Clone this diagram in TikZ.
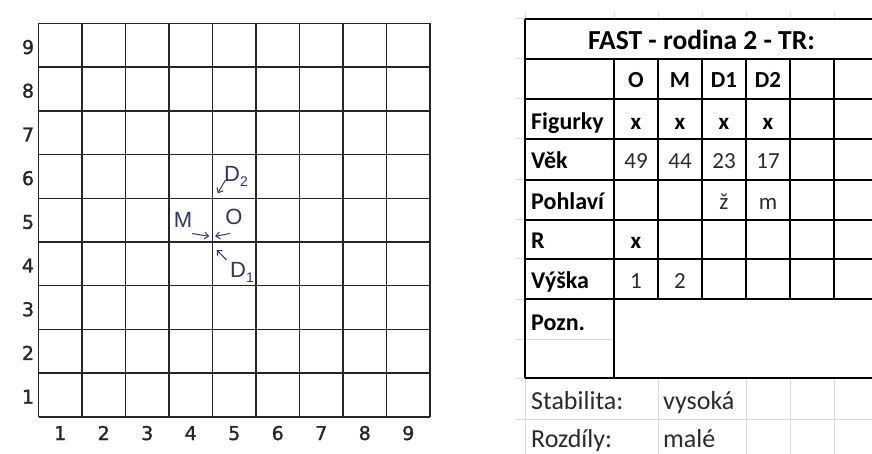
\documentclass[tikz,border=0pt]{standalone}
\usepackage{fontspec}
\setmainfont{Carlito}
\newfontfamily\gridfont[FakeBold=1.4]{DejaVu Sans}
\newfontfamily\handfont{Liberation Sans}
\usetikzlibrary{arrows.meta}

\definecolor{boardgray}{HTML}{262626}
\definecolor{ink}{HTML}{2E3470}
\definecolor{xlgrid}{HTML}{D5DCE6}
\definecolor{celltext}{HTML}{2A2A2A}

\begin{document}
\begin{tikzpicture}[
    x=1pt, y=-1pt,          % pixel coordinates, y down
    >=Stealth,
    board/.style={draw=boardgray, line width=1.5pt},
    axislabel/.style={font=\gridfont\fontsize{19}{19}\selectfont, text=boardgray, inner sep=0pt, anchor=base},
    hand/.style={font=\handfont\fontsize{22}{22}\selectfont, text=ink, inner sep=0pt},
    handarrow/.style={draw=ink, line width=1pt, -{Straight Barb[length=4pt,width=7pt]}},
    thickrule/.style={draw=black, line width=1.7pt},
    xlline/.style={draw=xlgrid, line width=1pt},
    title/.style={font=\bfseries\fontsize{27.5}{27.5}\selectfont, anchor=base},
    rowhead/.style={font=\bfseries\fontsize{24}{24}\selectfont, anchor=base west, inner sep=0pt},
    cellb/.style={font=\bfseries\fontsize{23}{23}\selectfont, inner sep=0pt, anchor=base},
    cellr/.style={font=\fontsize{23}{23}\selectfont, text=celltext, inner sep=0pt, anchor=base},
    plain/.style={font=\fontsize{26}{26}\selectfont, text=celltext, anchor=base west, inner sep=0pt}
]
    \useasboundingbox (0,0) rectangle (872,454);
    \clip (0,0) rectangle (872,454);

    % --- game board 9x9 ---
    \foreach \i in {0,...,9} {
        \draw [board] ({38.5+43.5*\i},23.5) -- ({38.5+43.5*\i},416.8);
        \draw [board] (38.5,{23.5+43.7*\i}) -- (430,{23.5+43.7*\i});
    }
    \foreach \i in {1,...,9} {
        \node [axislabel] (col\i) at ({38.5+43.5*(\i-0.5)},440) {\i};
        \node [axislabel] (row\i) at (28,{54+43.7*(9-\i)}) {\i};
    }

    % --- figures (hand written) ---
    \coordinate (hub) at (211.7,242.3);
    \node [hand] (mlab) at (183,220) {M};
    \node [hand] (olab) at (234,217) {O};
    \node [hand] (d2lab) at (236,176) {D\raisebox{-5pt}{\fontsize{14}{14}\selectfont 2}};
    \node [hand] (d1lab) at (242,272) {D\raisebox{-5pt}{\fontsize{14}{14}\selectfont 1}};
    \coordinate (mtail) at (192,233.5);
    \coordinate (otail) at (230,233.5);
    \coordinate (d2tail) at (225.5,180);
    \coordinate (d1tail) at (226.5,260);
    \draw [handarrow] (mtail) -- ([shift={(-2.5,-6)}]hub);
    \draw [handarrow] (otail) -- ([shift={(3.5,-6)}]hub);
    \draw [handarrow] (d2tail) -- ([shift={(6,-49)}]hub);
    \draw [handarrow] (d1tail) -- ([shift={(5,7.5)}]hub);

    % --- sheet grid round the table ---
    \foreach \y in {19,59,99,139,180,220,259,299,339,378,419}
        \draw [xlline] (515,\y) -- (525,\y);
    \foreach \x in {525,614,658,702,746,790,834}
        \draw [xlline] (\x,12) -- (\x,19);
    \draw [xlline] (525,339) -- (614,339);
    \draw [xlline] (515,419) -- (872,419);
    \foreach \x in {525,658,746,790,834}
        \draw [xlline] (\x,378) -- (\x,454);

    % --- table ---
    \foreach \y in {19,59,99,139,180,220,259,299,378}
        \draw [thickrule] (525,\y) -- (880,\y);
    \draw [thickrule] (525,19) -- (525,378);
    \draw [thickrule] (614,59) -- (614,378);
    \foreach \x in {658,702,746,790,834,878}
        \draw [thickrule] (\x,59) -- (\x,299);

    \node [title] (ttl) at (701.5,49.5) {FAST - rodina 2 - TR:};

    \node [cellb] (hO) at (636,87.5) {O};
    \node [cellb] (hM) at (680,87.5) {M};
    \node [cellb] (hD1) at (724,87.5) {D1};
    \node [cellb] (hD2) at (768,87.5) {D2};

    \node [rowhead] (lfig) at (531,129.5) {Figurky};
    \node [rowhead] (lvek) at (531,168.5) {Věk};
    \node [rowhead] (lpoh) at (531,210) {Pohlaví};
    \node [rowhead] (lr) at (531,248.5) {R};
    \node [rowhead] (lvys) at (531,288.5) {Výška};
    \node [rowhead] (lpoz) at (531,330) {Pozn.};

    \foreach \x/\n in {636/1,680/2,724/3,768/4}
        \node [cellb] (fig\n) at (\x,129.5) {x};
    \foreach \x/\v/\n in {636/49/1,680/44/2,724/23/3,768/17/4}
        \node [cellr] (vek\n) at (\x,168.5) {\v};
    \node [cellr] (poh3) at (724,210) {ž};
    \node [cellr] (poh4) at (768,210) {m};
    \node [cellb] (r1) at (636,248.5) {x};
    \node [cellr] (vys1) at (636,288.5) {1};
    \node [cellr] (vys2) at (680,288.5) {2};

    \node [plain] (lstab) at (531,409) {Stabilita:};
    \node [plain] (vstab) at (663,409) {vysoká};
    \node [plain] (lrozd) at (531,447.5) {Rozdíly:};
    \node [plain] (vrozd) at (663,447.5) {malé};
\end{tikzpicture}
\end{document}
